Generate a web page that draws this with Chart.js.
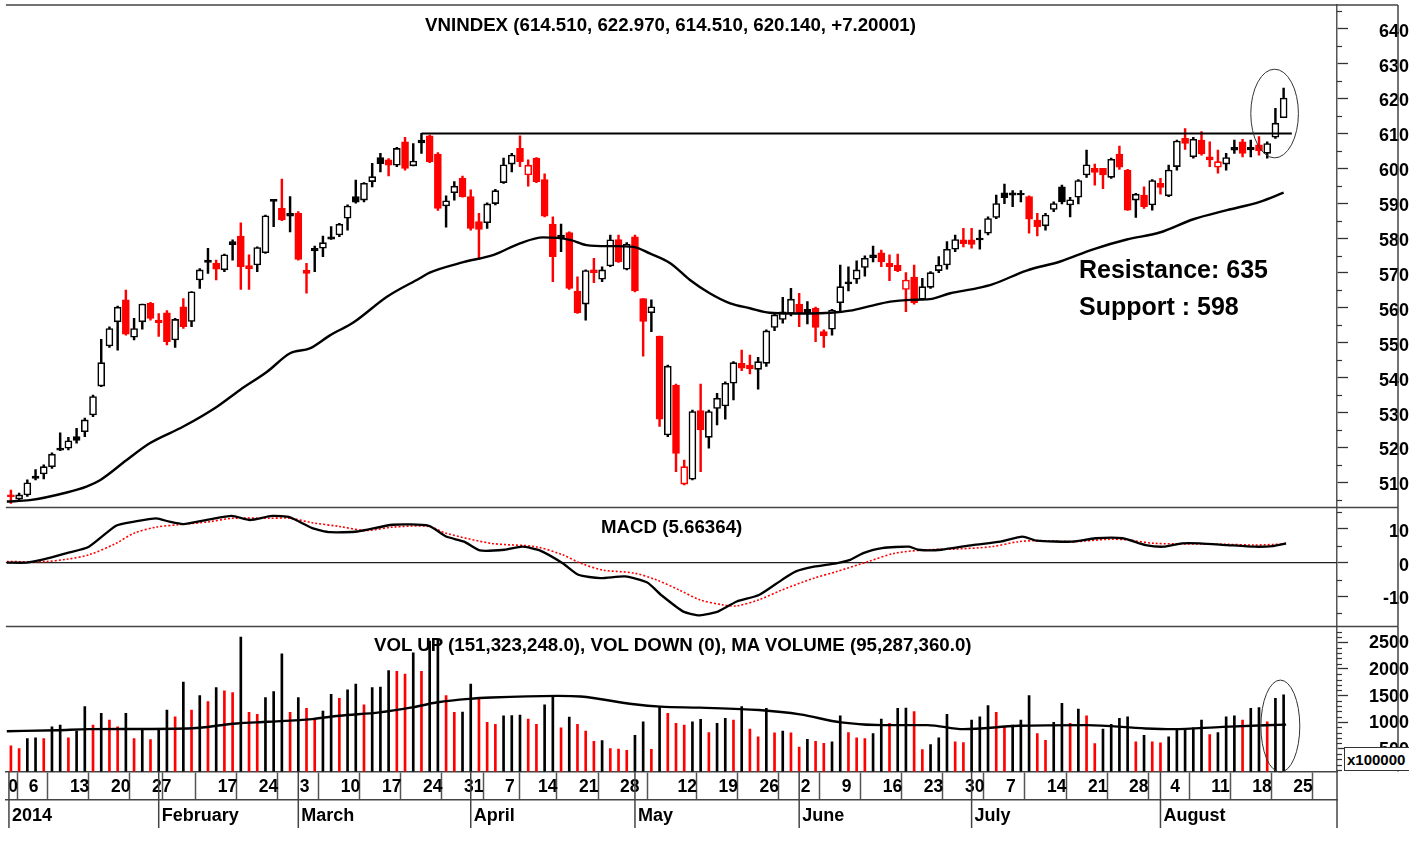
<!DOCTYPE html>
<html>
<head>
<meta charset="utf-8">
<title>VNINDEX</title>
<script src="https://cdn.jsdelivr.net/npm/chart.js@4.4.1/dist/chart.umd.min.js"></script>
<style>
html,body{margin:0;padding:0;background:#fff;}
#wrap{position:relative;width:1409px;height:853px;overflow:hidden;background:#fff;}
canvas{position:absolute;left:0;}
.t{position:absolute;font-family:'Liberation Sans',Arial,Helvetica,sans-serif;font-weight:bold;white-space:nowrap;color:#000;line-height:1;}
#xbox{position:absolute;left:1344px;top:747px;width:70px;height:22px;border:1px solid #333;background:#fff;overflow:hidden;}
</style>
</head>
<body>
<div id="wrap">
<canvas id="cP" width="1409" height="508" style="top:0;width:1409px;height:508px"></canvas>
<canvas id="cM" width="1409" height="120" style="top:507px;width:1409px;height:120px"></canvas>
<canvas id="cV" width="1409" height="204" style="top:626px;width:1409px;height:204px"></canvas>
<div class="t" style="left:425px;top:16px;font-size:18.7px">VNINDEX (614.510, 622.970, 614.510, 620.140, +7.20001)</div>
<div class="t" style="left:601px;top:518px;font-size:18.7px">MACD (5.66364)</div>
<div class="t" style="left:374px;top:636px;font-size:18.7px">VOL UP (151,323,248.0), VOL DOWN (0), MA VOLUME (95,287,360.0)</div>
<div class="t" style="left:1079px;top:257px;font-size:25px">Resistance: 635</div>
<div class="t" style="left:1079px;top:294px;font-size:25px">Support : 598</div>
<div id="xbox"><div class="t" style="left:2px;top:4px;font-size:15px">x100000</div></div>
</div>
<script>
const FONT = "'Liberation Sans', Arial, Helvetica, sans-serif";
const X_MIN = -0.61, X_MAX = 161.5;

// ---- OHLC (one per trading day, 2 Jan 2014 .. 22 Aug 2014) ----
const opens = [506.4,505.2,506.4,511.8,512.4,514.5,519.8,519.8,523.1,524.5,529.3,537.6,549.1,556.0,562.3,551.6,556.0,561.3,556.5,558.6,
550.8,560.3,556.1,568.0,573.7,572.8,570.9,579.0,580.6,572.1,572.3,575.8,591.1,588.5,587.1,587.1,570.8,577.1,577.1,580.4,
580.9,585.7,591.9,590.9,596.2,603.1,602.4,600.9,607.6,600.7,608.1,609.3,604.1,589.2,593.0,597.1,591.9,584.7,584.4,589.9,
595.9,601.2,605.7,598.1,602.9,596.8,584.0,580.9,581.6,564.8,561.1,570.9,568.2,572.0,579.6,571.1,580.4,562.7,558.6,551.9,
523.6,537.9,509.5,510.9,530.6,522.9,531.2,531.9,538.4,544.1,543.6,542.4,544.1,554.4,556.7,558.4,561.1,559.6,559.9,553.2,
553.9,561.5,567.5,568.2,571.6,575.2,575.8,572.8,572.3,565.3,568.8,562.5,565.9,570.7,572.3,576.8,579.5,579.5,580.0,581.4,
585.9,593.0,593.0,592.8,591.9,585.2,583.5,588.2,594.7,589.5,591.7,598.1,600.0,600.0,597.4,604.1,599.5,590.9,592.3,589.5,
595.7,592.1,600.5,608.6,603.3,608.1,603.3,600.3,601.2,606.0,607.6,606.0,606.7,604.3,608.9,614.51];
const highs = [507.8,506.9,510.7,513.7,515.0,518.5,524.2,522.9,525.5,528.4,535.0,551.0,554.6,560.5,565.1,557.0,561.1,561.6,558.4,559.2,
557.0,562.7,564.7,571.3,577.1,573.7,575.4,579.5,584.4,575.2,577.5,586.6,591.1,596.9,591.9,587.6,572.8,577.7,580.6,583.3,
584.2,589.5,596.6,595.9,601.4,604.3,602.8,606.0,608.9,607.1,610.0,609.5,604.5,592.1,596.2,597.8,593.8,587.1,590.1,594.0,
602.9,604.3,609.3,602.4,603.1,598.4,586.1,584.0,581.8,568.9,570.9,574.2,571.8,580.9,580.9,578.7,580.9,562.7,562.3,551.9,
543.6,538.2,516.4,530.7,538.2,530.7,535.5,538.8,544.6,547.9,546.5,545.8,553.7,558.4,563.0,565.6,564.2,561.8,560.2,553.7,
559.6,572.3,571.8,573.5,574.9,577.7,576.6,575.2,575.4,570.1,572.3,568.5,570.4,574.7,579.0,580.9,582.8,582.8,582.3,586.1,
592.3,595.5,593.6,593.6,592.1,587.1,587.1,590.4,595.2,591.7,596.8,605.2,601.2,600.0,602.9,606.4,599.7,592.8,594.7,596.8,
597.1,600.9,608.1,611.4,608.9,610.5,607.6,605.2,604.3,608.1,608.3,608.1,609.1,607.6,617.2,622.97];
const lows = [504.0,505.0,506.0,510.7,511.0,514.0,519.1,519.3,521.2,523.1,528.8,537.4,548.7,547.9,552.2,550.8,553.9,556.5,551.8,549.4,
548.7,554.1,554.6,565.6,569.9,568.0,570.4,573.7,565.3,565.3,570.4,575.6,583.3,585.0,581.8,573.7,564.2,570.4,574.7,579.6,
580.4,582.3,590.0,590.4,594.7,599.0,597.8,600.5,599.5,600.7,604.3,601.6,587.9,583.1,590.9,591.7,582.3,573.9,582.8,589.5,
595.7,599.0,600.5,594.9,595.9,586.1,567.5,576.1,565.3,558.4,556.5,567.2,567.5,571.8,573.0,570.9,564.6,546.2,553.2,526.0,
523.1,513.1,509.3,510.7,513.1,519.8,526.5,528.1,533.6,542.0,541.1,536.7,543.2,553.5,555.6,557.7,554.6,555.4,550.3,548.7,
552.2,558.6,564.9,567.0,569.1,573.2,571.8,567.8,570.4,558.9,561.1,562.3,565.6,570.1,571.1,576.1,577.5,577.1,576.8,580.9,
585.6,589.9,589.0,590.4,581.4,580.6,582.3,587.6,589.8,586.1,589.8,597.4,595.2,594.2,597.1,599.7,587.9,585.9,588.5,588.0,
592.6,591.9,599.5,605.4,602.9,603.8,600.5,598.6,599.5,604.3,603.3,603.3,603.8,602.9,608.6,614.51];
const closes = [505.9,506.4,509.9,511.1,514.5,518.1,519.2,521.9,522.0,527.9,534.6,544.3,554.1,560.2,552.5,554.1,561.1,557.0,555.8,550.3,
556.7,554.6,564.6,570.9,573.0,571.1,575.2,578.1,571.8,571.2,577.3,586.4,590.5,585.2,586.3,573.9,569.9,576.3,578.7,579.7,
584.0,589.2,590.3,595.7,597.6,601.3,600.9,605.7,600.0,602.1,607.3,601.9,588.5,590.7,594.9,591.9,582.8,582.5,589.8,593.6,
601.0,603.8,601.9,600.9,596.2,586.3,574.7,580.0,565.6,558.6,570.7,570.1,570.9,579.5,573.2,578.3,564.9,556.1,560.3,528.1,
543.3,518.3,514.5,530.3,525.0,530.3,534.1,538.4,544.3,542.7,542.6,544.6,553.4,558.0,558.9,562.5,558.4,558.6,554.4,552.0,
559.4,566.1,566.9,570.9,574.2,574.4,573.2,571.8,570.7,568.0,561.5,566.1,570.1,572.3,576.8,579.6,578.4,578.2,579.5,585.6,
589.9,591.6,592.3,592.4,585.4,583.3,586.6,589.9,590.4,591.0,596.5,601.0,598.8,598.1,602.6,600.3,588.0,592.6,589.0,596.5,
594.5,599.5,607.8,607.1,608.3,604.1,602.4,601.9,603.1,605.2,604.3,605.3,605.0,607.1,612.94,620.14];

// ---- volume (x100000) ----
const volumes = [551,500,690,703,690,911,943,703,829,1291,943,1164,1038,911,1164,690,867,671,867,1228,
1101,1753,1228,1500,1386,1651,1588,1557,2600,1183,1146,1462,1576,2284,1183,1462,1259,1057,1209,1525,
1449,1607,1715,1323,1651,1660,1968,1955,1905,2303,1955,2524,2540,1500,1183,1190,1715,1437,994,956,
1120,1125,1133,1057,956,1323,1481,893,1095,956,829,639,650,500,490,469,753,1006,488,1291,
1164,975,943,1006,1050,804,975,1070,1038,1291,867,722,1259,800,829,800,532,678,640,600,
627,1120,804,703,690,785,1057,975,1259,1265,1196,481,576,703,1146,627,615,1038,1101,1310,
1183,920,943,1038,1500,785,658,994,1354,975,1247,1120,595,867,956,1070,1101,627,753,627,
610,722,867,880,890,1038,766,804,1101,1120,1038,1259,1272,1006,1449,1513];

// ---- moving average of price (read points) ----
const maX = [-0.5,2.3,6.8,9.2,10.9,14.1,16.9,21.0,25.1,27.9,31.2,34.0,36.4,38.9,41.7,45.8,49.8,51.0,55.1,58.8,62.0,64.8,68.1,70.1,73.0,75.8,77.8,80.3,82.7,85.1,87.6,90.0,92.4,94.9,97.3,99.8,102.2,104.6,107.1,109.5,111.9,114.4,117.6,119.6,123.7,127.8,131.8,135.9,139.9,144.0,148.1,152.1,155.0];
const maY = [504.5,504.9,507.1,508.8,510.7,516.4,521.2,526.0,531.7,536.5,541.7,547.0,548.4,552.2,555.8,563.2,568.5,570.1,573.1,575.2,578.5,580.2,579.5,578.0,577.7,577.5,575.6,572.8,568.0,564.2,561.3,559.9,558.6,558.4,558.4,558.6,559.2,560.5,561.8,562.3,562.5,564.2,565.6,566.8,570.7,573.3,576.8,579.6,581.6,585.4,588.0,590.4,593.0];

// ---- resistance line ----
const resX = [50, 156];
const resY = [610, 610];

// ---- MACD and signal (read points) ----
const macdX = [-0.5,1.9,4.1,6.8,9.5,12.8,15.0,17.7,19.3,21.0,24.2,26.9,29.1,31.8,34.0,36.7,38.9,42.2,46.5,50.9,53.0,55.2,57.1,60.1,62.3,64.4,67.2,69.1,71.8,74.8,77.5,79.2,81.9,83.9,86.1,88.4,91.1,93.9,95.6,97.8,100.5,102.2,103.8,106.1,109.4,110.5,113.3,117.1,120.5,123.2,124.9,129.3,132.1,135.4,138.2,140.4,142.6,144.8,148.1,151.5,153.7,155.3];
const macdY = [0.0,0.0,1.0,2.8,4.7,10.9,12.1,13.1,12.1,11.4,12.8,13.8,12.6,13.8,13.4,10.2,9.0,9.2,11.2,10.9,7.7,6.2,3.6,3.8,4.7,3.6,-0.2,-3.6,-4.6,-4.1,-5.9,-9.6,-14.5,-15.6,-14.5,-11.5,-9.6,-5.1,-2.6,-1.2,-0.2,0.8,2.8,4.3,4.7,3.8,3.8,5.2,6.2,7.7,6.5,6.2,7.2,7.2,5.2,4.7,5.7,5.7,5.2,4.7,4.9,5.66];
const sigX = [-0.5,4.1,6.8,9.5,12.8,15.0,17.7,20.4,24.2,26.9,31.3,34.0,36.7,40.0,43.3,46.5,50.9,53.0,58.5,63.9,67.2,69.4,72.1,75.9,78.6,81.4,83.9,86.7,88.4,91.1,93.9,97.8,100.5,104.4,107.7,111.6,114.9,119.4,122.7,124.9,129.3,133.8,136.0,139.3,144.8,148.1,151.5,155.3];
const sigY = [0.3,0.3,1.0,2.3,5.7,8.7,10.5,11.2,12.1,13.1,13.1,13.1,11.8,10.7,9.5,10.5,10.7,8.7,5.7,4.7,2.3,-0.2,-2.2,-3.1,-5.1,-8.1,-11.0,-12.5,-12.8,-11.0,-8.1,-4.6,-2.7,0.3,2.8,3.8,4.0,4.7,6.2,6.5,6.2,6.9,6.7,5.7,5.5,5.4,5.2,5.5];

// ---- volume moving average (read points) ----
const vmaX = [-0.5,5.7,9.5,21.5,27.5,31.3,36.7,40.0,44.9,48.7,52.0,55.8,58.5,66.6,69.4,75.9,79.1,83.9,91.1,96.1,101.1,106.1,111.6,116.0,122.7,131.0,138.2,141.5,147.6,155.3];
const vmaY = [829,848,867,880,975,1006,1057,1120,1183,1272,1373,1437,1462,1493,1481,1335,1291,1272,1228,1146,994,943,943,867,930,943,880,867,911,953];

// ---- tick labels ----
const priceTicks = [510,520,530,540,550,560,570,580,590,600,610,620,630,640];
const macdTicks = [-10,0,10];
const volTicks = [500,1000,1500,2000,2500];
const dateTickIdx = [-0.5,2,7,12,17,20,25,30,35,40,45,50,55,60,64,69,74,81,86,91,96,101,106,111,116,121,126,131,136,141,146,151,156];
const dateTickLbl = ['0','6','13','20','27','','17','24','3','10','17','24','31','7','14','21','28','12','19','26','2','9','16','23','30','7','14','21','28','4','11','18','25'];
const monthIdx = [-0.24,18,35,56,76,96,117,140];
const monthLbl = ['2014','February','March','April','May','June','July','August'];

// ---- derived colours ----
const idx = closes.map((_, i) => i);
const isUp = idx.map(i => i === 0 ? closes[0] >= opens[0] : closes[i] >= closes[i - 1]);
const col = isUp.map(u => u ? '#000000' : '#ff0000');
const hollow = idx.map(i => closes[i] > opens[i]);
const volCol = idx.map(i => (i > 0 && volumes[i] >= volumes[i - 1]) ? '#000000' : '#ff0000');

const minorPrice = []; for (let v = 505; v <= 645; v += 10) minorPrice.push(v);
const minorMacd = [-15, -5, 5, 15];
const minorVol = []; for (let v = 100; v <= 2700; v += 100) if (v % 500) minorVol.push(v);

const deco = {
  id: 'deco',
  beforeDatasetsDraw(chart, a, o) {
    if (o.zero) {
      const ctx = chart.ctx, ca = chart.chartArea, y = chart.scales.y.getPixelForValue(0);
      ctx.save(); ctx.strokeStyle = '#222'; ctx.lineWidth = 1.4;
      ctx.beginPath(); ctx.moveTo(ca.left, y); ctx.lineTo(ca.right, y); ctx.stroke(); ctx.restore();
    }
  },
  afterDatasetsDraw(chart, a, o) {
    if (!o.ellipse) return;
    const e = o.ellipse, ctx = chart.ctx, xs = chart.scales.x, ys = chart.scales.y;
    const cx = xs.getPixelForValue(e.x), cy = ys.getPixelForValue(e.y);
    const rx = Math.abs(xs.getPixelForValue(e.x + e.dx) - cx), ry = Math.abs(ys.getPixelForValue(e.y + e.dy) - cy);
    ctx.save(); ctx.strokeStyle = '#333'; ctx.lineWidth = 1;
    ctx.beginPath(); ctx.ellipse(cx, cy, rx, ry, 0, 0, Math.PI * 2); ctx.stroke(); ctx.restore();
  },
  afterDraw(chart, a, o) {
    const ctx = chart.ctx, ca = chart.chartArea, ys = chart.scales.y;
    ctx.save();
    ctx.strokeStyle = '#444'; ctx.lineWidth = 1.5;
    const R = o.frameRight;
    const hl = (y, x2) => { ctx.beginPath(); ctx.moveTo(ca.left, y); ctx.lineTo(x2, y); ctx.stroke(); };
    if (o.top) hl(ca.top, R);
    if (o.bottom) hl(ca.bottom, R);
    ctx.beginPath(); ctx.moveTo(R, ca.top); ctx.lineTo(R, ca.bottom); ctx.stroke();
    ctx.lineWidth = 1.2; ctx.strokeStyle = '#333';
    (o.minor || []).forEach(v => {
      const py = Math.round(ys.getPixelForValue(v)) + 0.5;
      ctx.beginPath(); ctx.moveTo(ca.right, py); ctx.lineTo(ca.right + 5, py); ctx.stroke();
    });
    if (o.months) {
      const xm = chart.scales.xm;
      ctx.strokeStyle = '#444'; ctx.lineWidth = 1.5;
      o.months.forEach(v => {
        const px = xm.getPixelForValue(v);
        ctx.beginPath(); ctx.moveTo(px, ca.bottom); ctx.lineTo(px, ca.bottom + 56.5); ctx.stroke();
      });
      ctx.beginPath(); ctx.moveTo(ca.right, ca.bottom); ctx.lineTo(ca.right, ca.bottom + 56.5); ctx.stroke();
    }
    ctx.restore();
  }
};

function noPad(s) { s.paddingTop = 0; s.paddingBottom = 0; s.paddingLeft = 0; s.paddingRight = 0; }
function hiddenX() {
  return { type: 'linear', min: X_MIN, max: X_MAX, offset: false, bounds: 'data', display: false };
}
function rightY(min, max, ticks, lblOff, pad) {
  return {
    type: 'linear', position: 'right', min, max, bounds: 'data',
    afterBuildTicks: s => { s.ticks = ticks.map(v => ({ value: v })); },
    afterFit: s => { s.width = 72; noPad(s); },
    ticks: { autoSkip: false, padding: pad, crossAlign: 'far', labelOffset: lblOff, color: '#000', font: { family: FONT, size: 18, weight: 'bold' },
      callback: v => String(v) },
    grid: { drawOnChartArea: false, drawTicks: true, tickLength: 11, color: '#333', tickWidth: 1.3 },
    border: { display: true, color: '#555', width: 1.5 }
  };
}
const common = { responsive: false, devicePixelRatio: 1, animation: false, events: [] };

// ---------------- price chart ----------------
new Chart(document.getElementById('cP'), {
  type: 'bar',
  data: {
    datasets: [
      { type: 'line', order: 0, data: resX.map((x, i) => ({ x, y: resY[i] })), borderColor: '#000', borderWidth: 2, pointRadius: 0 },
      { type: 'line', order: 1, data: maX.map((x, i) => ({ x, y: maY[i] })), borderColor: '#000', borderWidth: 2.4, pointRadius: 0, cubicInterpolationMode: 'monotone' },
      { type: 'bar', order: 2, grouped: false, barThickness: 7, borderSkipped: false, borderWidth: 1.6,
        data: idx.map(i => ({ x: i, y: [opens[i], closes[i]] })),
        backgroundColor: idx.map(i => hollow[i] ? '#ffffff' : col[i]), borderColor: col },
      { type: 'bar', order: 3, grouped: false, barThickness: 1.8, borderWidth: 0,
        data: idx.map(i => ({ x: i, y: [lows[i], highs[i]] })), backgroundColor: col }
    ]
  },
  options: Object.assign({}, common, {
    layout: { padding: { left: 5.9, right: 0, top: 5, bottom: 0.5 } },
    scales: { x: hiddenX(), y: rightY(502.8, 646.8, priceTicks, 3, 14) },
    plugins: { legend: { display: false }, tooltip: { enabled: false },
      deco: { frameRight: 1398, top: true, bottom: true, minor: minorPrice, ellipse: { x: 153.9, y: 615.7, dx: 2.9, dy: 12.7 } } }
  }),
  plugins: [deco]
});

// ---------------- MACD chart ----------------
new Chart(document.getElementById('cM'), {
  type: 'line',
  data: {
    datasets: [
      { data: macdX.map((x, i) => ({ x, y: macdY[i] })), borderColor: '#000', borderWidth: 2.3, pointRadius: 0, tension: 0.2 },
      { data: sigX.map((x, i) => ({ x, y: sigY[i] })), borderColor: '#ff0000', borderWidth: 1.6, borderDash: [2, 2], pointRadius: 0, tension: 0.3 }
    ]
  },
  options: Object.assign({}, common, {
    layout: { padding: { left: 5.9, right: 0, top: 0.5, bottom: 0.5 } },
    scales: { x: hiddenX(), y: rightY(-18.9, 16.3, macdTicks, 3, 21) },
    plugins: { legend: { display: false }, tooltip: { enabled: false },
      deco: { frameRight: 1398, top: true, bottom: true, minor: minorMacd, zero: true } }
  }),
  plugins: [deco]
});

// ---------------- Volume chart ----------------
new Chart(document.getElementById('cV'), {
  type: 'bar',
  data: {
    datasets: [
      { type: 'line', order: 0, data: vmaX.map((x, i) => ({ x, y: vmaY[i] })), borderColor: '#000', borderWidth: 2.4, pointRadius: 0, cubicInterpolationMode: 'monotone' },
      { type: 'bar', order: 1, grouped: false, barThickness: 2, borderWidth: 0,
        data: idx.map(i => ({ x: i, y: volumes[i] })), backgroundColor: volCol }
    ]
  },
  options: Object.assign({}, common, {
    layout: { padding: { left: 5.9, right: 0, top: 0.5, bottom: 2 } },
    scales: {
      x: { type: 'linear', min: X_MIN, max: X_MAX, offset: false, bounds: 'data', position: 'bottom', weight: 0,
        afterBuildTicks: s => { s.ticks = dateTickIdx.map(v => ({ value: v })); },
        afterFit: s => { s.height = 28.5; noPad(s); },
        ticks: { autoSkip: false, maxRotation: 0, minRotation: 0, align: 'start', labelOffset: 1.5, padding: -23,
          color: '#000', font: { family: FONT, size: 17.5, weight: 'bold' }, callback: (v, i) => dateTickLbl[i] },
        grid: { drawOnChartArea: false, drawTicks: true, tickLength: 28.5, color: '#555', tickWidth: 1.5 },
        border: { display: true, color: '#444', width: 1.5 } },
      xm: { type: 'linear', min: X_MIN, max: X_MAX, offset: false, bounds: 'data', position: 'bottom', weight: 1,
        afterBuildTicks: s => { s.ticks = monthIdx.map(v => ({ value: v })); },
        afterFit: s => { s.height = 28; noPad(s); },
        ticks: { autoSkip: false, maxRotation: 0, minRotation: 0, align: 'start', labelOffset: 3, padding: 5,
          color: '#000', font: { family: FONT, size: 18, weight: 'bold' }, callback: (v, i) => monthLbl[i] },
        grid: { drawOnChartArea: false, drawTicks: false, color: '#555' },
        border: { display: true, color: '#444', width: 1.5 } },
      y: rightY(70, 2800, volTicks, 1, 7)
    },
    plugins: { legend: { display: false }, tooltip: { enabled: false },
      deco: { frameRight: 1398, top: true, bottom: false, minor: minorVol, months: monthIdx, ellipse: { x: 154.6, y: 925, dx: 2.37, dy: 866 } } }
  }),
  plugins: [deco]
});
</script>
</body>
</html>
